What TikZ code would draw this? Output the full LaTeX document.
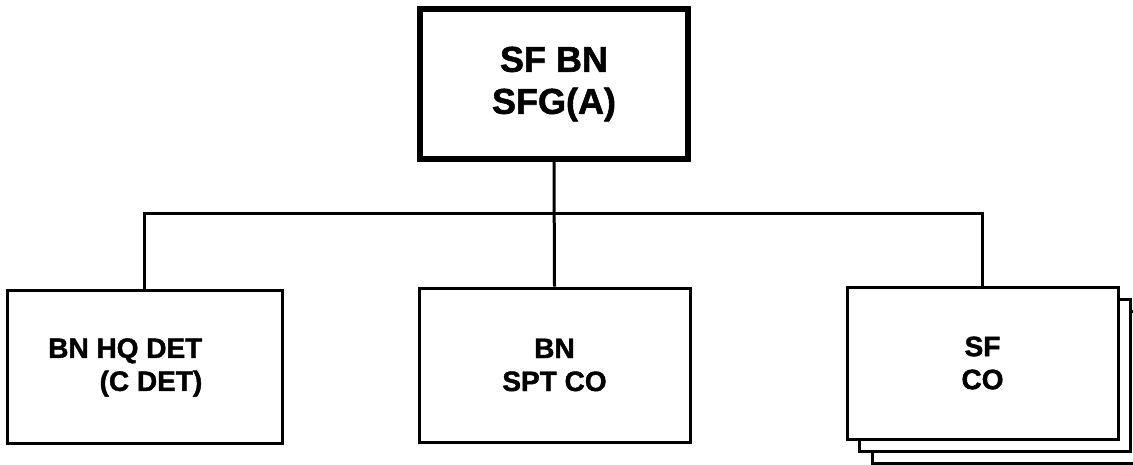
\documentclass[tikz,border=0pt]{standalone}
\usepackage{fontspec}
\setmainfont[BoldFeatures={FakeBold=1.5}]{Liberation Sans}
\usetikzlibrary{positioning}

\tikzset{
    unit/.style={draw, rectangle, line width=3pt, fill=white, align=center,
        font=\bfseries\fontsize{28}{33}\selectfont},
    hqunit/.style={unit, line width=6pt,
        font=\bfseries\fontsize{36}{42}\selectfont},
    unitlabel/.style={align=right, inner sep=0pt,
        font=\bfseries\fontsize{28}{33}\selectfont},
    link/.style={line width=3pt}
}

\begin{document}
\begin{tikzpicture}[x=1pt, y=-1pt]
    \useasboundingbox (0, 0) rectangle (1133, 464);
    \begin{scope}
        % Battalion
        \node[hqunit, minimum width=268pt, minimum height=150pt] (SFBN) at (554, 84) {SF BN\\SFG(A)};
        % Subordinate units
        \node[unit, minimum width=275pt, minimum height=153pt] (HQDET) at (144.5, 366.5) {};
        \node[unitlabel, anchor=east] (HQDETlabel) at ([xshift=58pt, yshift=-1pt]HQDET.center) {BN HQ DET\\(C DET)};
        \node[unit, minimum width=271pt, minimum height=154pt] (SPTCO) at (554.5, 365) {BN\\SPT CO};
        \node[unit, minimum width=271pt, minimum height=152pt] (SFCOc) at (1007.5, 387) {};
        \node[unit, minimum width=271pt, minimum height=152pt] (SFCOb) at (994.5, 375) {};
        \node[unit, minimum width=271pt, minimum height=152pt] (SFCO) at (982.5, 363) {SF\\CO};
    \end{scope}
    \coordinate (bus) at (554.5, 213);
    \draw[link] (SFBN.south)
        to (SPTCO.north);
    \draw[link] (HQDET.north)
        |- (bus)
        -| (SFCO.north);
\end{tikzpicture}
\end{document}
